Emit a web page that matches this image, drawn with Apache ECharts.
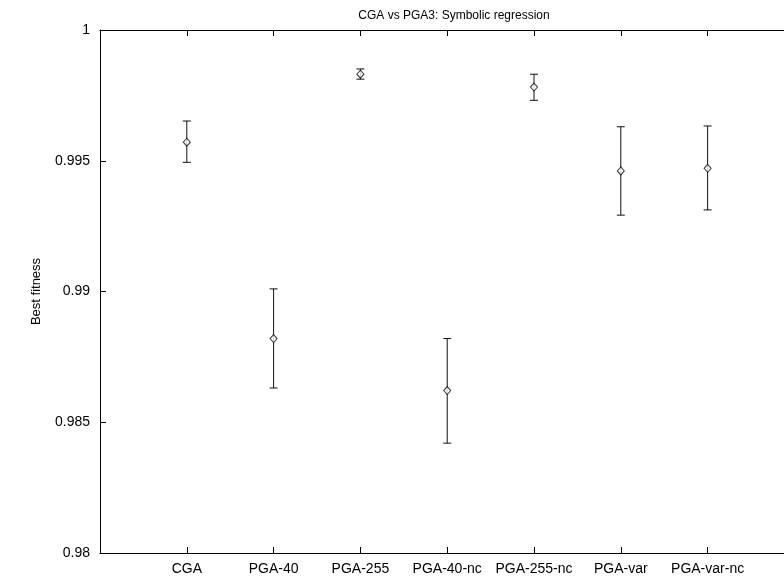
<!DOCTYPE html>
<html>
<head>
<meta charset="utf-8">
<script src="https://cdn.jsdelivr.net/npm/echarts@6/dist/echarts.min.js"></script>
<style>
html,body{margin:0;padding:0;background:#fff;}
#chart{width:784px;height:583px;}
</style>
</head>
<body>
<div id="chart"></div>
<script>
// Data
var categories = ['CGA', 'PGA-40', 'PGA-255', 'PGA-40-nc', 'PGA-255-nc', 'PGA-var', 'PGA-var-nc'];
var meanValues  = [0.99571, 0.98820, 0.99831, 0.98621, 0.99782, 0.99461, 0.99471];
var lowerValues = [0.99494, 0.98631, 0.99812, 0.98420, 0.99731, 0.99292, 0.99312];
var upperValues = [0.99652, 0.99010, 0.99851, 0.98820, 0.99831, 0.99630, 0.99633];
var yTicks = [0.98, 0.985, 0.99, 0.995, 1];

var FONT = 'Liberation Sans, Arial, Helvetica, sans-serif';
var chart = echarts.init(document.getElementById('chart'), null, {renderer: 'canvas'});

var meanData = categories.map(function (c, i) { return [i + 1, meanValues[i]]; });
var errData = categories.map(function (c, i) { return [i + 1, lowerValues[i], upperValues[i]]; });

function labelFor(v) {
  var r = Math.round(v);
  var i = r - 1;
  return (i >= 0 && i < categories.length && Math.abs(v - r) < 1e-9) ? categories[i] : '';
}
function yLabel(v) {
  for (var k = 0; k < yTicks.length; k++) {
    if (Math.abs(v - yTicks[k]) < 1e-9) return String(yTicks[k]);
  }
  return '';
}

var X_MAX = 7.88; // the right part of the frame lies outside the picture

var option = {
  animation: false,
  backgroundColor: '#ffffff',
  title: {
    text: 'CGA vs PGA3: Symbolic regression',
    left: 449,
    top: 5,
    textAlign: 'center',
    textStyle: {fontFamily: FONT, fontSize: 12, fontWeight: 'normal', color: '#000'}
  },
  grid: {left: 100, right: 0, top: 30, bottom: 30, containLabel: false},
  xAxis: [{
    type: 'value', min: 0, max: X_MAX, interval: 1, position: 'bottom',
    axisLine: {show: true, lineStyle: {color: '#000', width: 1}},
    axisTick: {show: true, inside: true, length: 6, lineStyle: {color: '#000'}},
    axisLabel: {show: true, formatter: labelFor, fontFamily: FONT, fontSize: 14, color: '#000', margin: 9, showMinLabel: true, showMaxLabel: false, hideOverlap: false},
    splitLine: {show: false}
  }, {
    type: 'value', min: 0, max: X_MAX, interval: 1, position: 'top',
    axisLine: {show: true, lineStyle: {color: '#000', width: 1}},
    axisTick: {show: true, inside: true, length: 6, lineStyle: {color: '#000'}},
    axisLabel: {show: false},
    splitLine: {show: false}
  }],
  yAxis: [{
    type: 'value', min: 0.98, max: 1, interval: 0.005,
    name: 'Best fitness', nameLocation: 'middle', nameGap: 57, nameRotate: 90,
    nameTextStyle: {fontFamily: FONT, fontSize: 13, color: '#000'},
    axisLine: {show: true, lineStyle: {color: '#000', width: 1}},
    axisTick: {show: true, inside: true, length: 6, lineStyle: {color: '#000'}},
    axisLabel: {formatter: yLabel, fontFamily: FONT, fontSize: 14, color: '#000', margin: 10},
    splitLine: {show: false}
  }],
  series: [{
    type: 'custom',
    xAxisIndex: 0, yAxisIndex: 0,
    data: errData,
    renderItem: function (params, api) {
      var x = api.value(0);
      var lo = api.coord([x, api.value(1)]);
      var hi = api.coord([x, api.value(2)]);
      var hw = 4;
      var st = {stroke: '#111', lineWidth: 1};
      return {
        type: 'group',
        children: [
          {type: 'line', shape: {x1: lo[0], y1: lo[1], x2: hi[0], y2: hi[1]}, style: st},
          {type: 'line', shape: {x1: lo[0] - hw, y1: lo[1], x2: lo[0] + hw, y2: lo[1]}, style: st},
          {type: 'line', shape: {x1: hi[0] - hw, y1: hi[1], x2: hi[0] + hw, y2: hi[1]}, style: st}
        ]
      };
    },
    z: 2
  }, {
    type: 'scatter',
    xAxisIndex: 0, yAxisIndex: 0,
    data: meanData,
    symbol: 'diamond',
    symbolSize: [7, 8],
    itemStyle: {color: '#fff', borderColor: '#000', borderWidth: 1},
    z: 3
  }]
};
chart.setOption(option);
</script>
</body>
</html>
